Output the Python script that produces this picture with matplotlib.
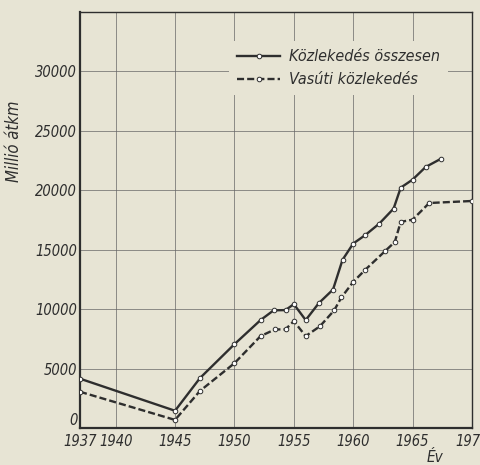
import matplotlib
matplotlib.use("Agg")
import matplotlib.pyplot as plt

# Közlekedés összesen (total transport), millió átkm
total_years = [1937, 1945, 1947.1, 1950, 1952.2, 1953.3, 1954.3, 1955, 1956, 1957.1,
               1958.3, 1959.1, 1960, 1961, 1962.2, 1963.4, 1964, 1965, 1966.1, 1967.4]
total_vals = [4150, 1450, 4200, 7050, 9080, 9900, 9920, 10420, 9080, 10500,
              11650, 14150, 15520, 16220, 17200, 18460, 20220, 20900, 21960, 22660]

# Vasúti közlekedés (rail)
rail_years = [1937, 1945, 1947.1, 1950, 1952.2, 1953.4, 1954.3, 1955, 1956, 1957.2,
              1958.4, 1959, 1960, 1961, 1962.7, 1963.5, 1964, 1965, 1966.4, 1970]
rail_vals = [3050, 680, 3120, 5450, 7730, 8290, 8300, 8990, 7730, 8560,
             9900, 10980, 12290, 13300, 14900, 15650, 17340, 17530, 18930, 19100]

xticks = [1937, 1940, 1945, 1950, 1955, 1960, 1965, 1970]
yticks = [0, 5000, 10000, 15000, 20000, 25000, 30000]

bg = "#e7e4d4"
ink = "#2e2e2e"
plt.rcParams["font.family"] = ["DejaVu Sans"]
plt.rcParams["font.style"] = "italic"
plt.rcParams["font.stretch"] = "condensed"

fig = plt.figure(figsize=(4.81, 4.65), dpi=100, facecolor=bg)
ax = fig.add_axes([80 / 481, 1 - 428 / 465, 392 / 481, 416 / 465], facecolor=bg)

ax.plot(total_years, total_vals, color=ink, lw=1.7, marker="o", ms=3.3,
        mfc="white", mec=ink, mew=0.7, label="Közlekedés összesen", zorder=3)
ax.plot(rail_years, rail_vals, color=ink, lw=1.7, ls=(0, (3, 1.3)), marker="o", ms=3.3,
        mfc="white", mec=ink, mew=0.7, label="Vasúti közlekedés", zorder=3)

ax.set_xlim(1937, 1970)
ax.set_ylim(0, 35000)
ax.set_xticks(xticks)
ax.set_yticks(yticks)
ax.set_xticklabels([str(t) for t in xticks], fontsize=10.5, color=ink)
ax.set_yticklabels([str(t) for t in yticks], fontsize=10.5, color=ink)
ax.tick_params(length=0)
ax.tick_params(axis="y", pad=2)
ax.tick_params(axis="x", pad=4)
ax.get_yticklabels()[0].set_verticalalignment("bottom")
ax.grid(True, color="#666666", lw=0.5)
ax.set_axisbelow(True)

for side in ["left", "bottom"]:
    ax.spines[side].set_linewidth(1.6)
for side in ["top", "right"]:
    ax.spines[side].set_linewidth(1.0)
for s in ax.spines.values():
    s.set_color(ink)

ax.set_ylabel("Millió átkm", fontsize=12, color=ink)
ax.yaxis.set_label_coords(-0.145, 0.69)

leg = ax.legend(loc="upper left", bbox_to_anchor=(0.38, 0.93), borderaxespad=0,
                frameon=True, facecolor=bg, edgecolor="none", framealpha=1, fontsize=11.5,
                handlelength=2.7, handletextpad=0.55, labelspacing=0.5, borderpad=0.5)
for t in leg.get_texts():
    t.set_color(ink)

fig.text(435 / 481, 1 - 457 / 465, "Év", fontsize=11, color=ink, ha="center", va="center")

fig.savefig("out.png", dpi=100, facecolor=bg)
